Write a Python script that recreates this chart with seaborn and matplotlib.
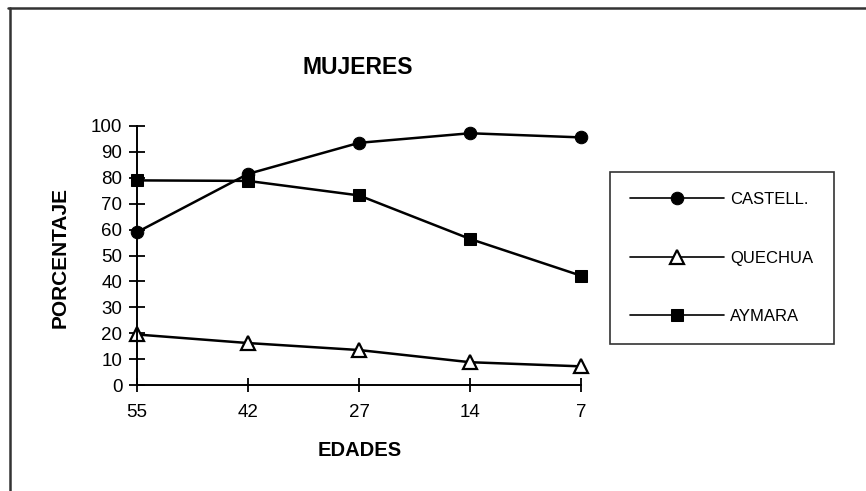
import numpy as np
import pandas as pd
import seaborn as sns
import matplotlib.pyplot as plt

# data
edades = ['55', '42', '27', '14', '7']
castell = [59, 81.5, 93.5, 97.2, 95.6]
quechua = [19.5, 16.2, 13.5, 8.8, 7.2]
aymara = [79, 78.8, 73.2, 56.4, 42.2]
series = ['CASTELL.', 'QUECHUA', 'AYMARA']

df = pd.DataFrame({'EDADES': edades * 3,
                   'PORCENTAJE': castell + quechua + aymara,
                   'grupo': np.repeat(series, len(edades))})

sns.set_theme(style="ticks")
plt.rcParams['font.family'] = ['Liberation Sans', 'DejaVu Sans']
plt.rcParams['text.color'] = 'black'

fig = plt.figure(figsize=(8.66, 4.91), dpi=100)
ax = fig.add_axes([137/866, 106/491, 444/866, 259/491])

g = sns.lineplot(data=df, x='EDADES', y='PORCENTAJE', hue='grupo', style='grupo',
                 palette=['black'] * 3, markers=['o', '^', 's'], dashes=False,
                 linewidth=1.8, markersize=9, markeredgecolor='black', ax=ax)
for ln in ax.lines:
    ln.set_clip_on(False)
    if ln.get_marker() == '^':
        # open triangle for QUECHUA
        ln.set_markerfacecolor('white')
        ln.set_markeredgewidth(1.6)
        ln.set_markersize(9.5)
    elif ln.get_marker() == 's':
        ln.set_markersize(8.5)

ax.set_xlim(0, 4)
ax.set_ylim(0, 100)
ax.set_yticks(range(0, 101, 10))
ax.set_xlabel('')
ax.set_ylabel('')
sns.despine(ax=ax)
for s in ['left', 'bottom']:
    ax.spines[s].set_linewidth(1.4)
    ax.spines[s].set_color('black')
ax.tick_params(axis='y', direction='inout', length=11, width=1.3, labelsize=13.5, pad=5, colors='black')
ax.tick_params(axis='x', direction='inout', length=10, width=1.3, labelsize=13.5, pad=9, colors='black')

handles, labels = ax.get_legend_handles_labels()
for h in handles:
    h.set_linewidth(1.2)
leg = ax.legend(handles, labels, loc='center', bbox_to_anchor=(722/866, 1 - 258/491),
                bbox_transform=fig.transFigure, frameon=True, fancybox=False,
                fontsize=12, handlelength=5.6, handletextpad=0.4, labelspacing=2.6,
                borderpad=1.2, edgecolor='black')
leg.get_frame().set_linewidth(1.2)

fig.text(358/866, 1 - 67/491, 'MUJERES', ha='center', va='center', fontsize=16.5, fontweight='bold')
fig.text(360/866, 1 - 450/491, 'EDADES', ha='center', va='center', fontsize=14.5, fontweight='bold')
fig.text(60/866, 1 - 258/491, 'PORCENTAJE', ha='center', va='center', rotation=90,
         fontsize=15, fontweight='bold')

# outer frame of the scanned page
fig.add_artist(plt.Line2D([8/866, 1], [1 - 8/491, 1 - 8/491], color='#333333', lw=1.8))
fig.add_artist(plt.Line2D([10/866, 10/866], [0, 1 - 8/491], color='#333333', lw=1.8))

fig.savefig('out.png', dpi=100)
